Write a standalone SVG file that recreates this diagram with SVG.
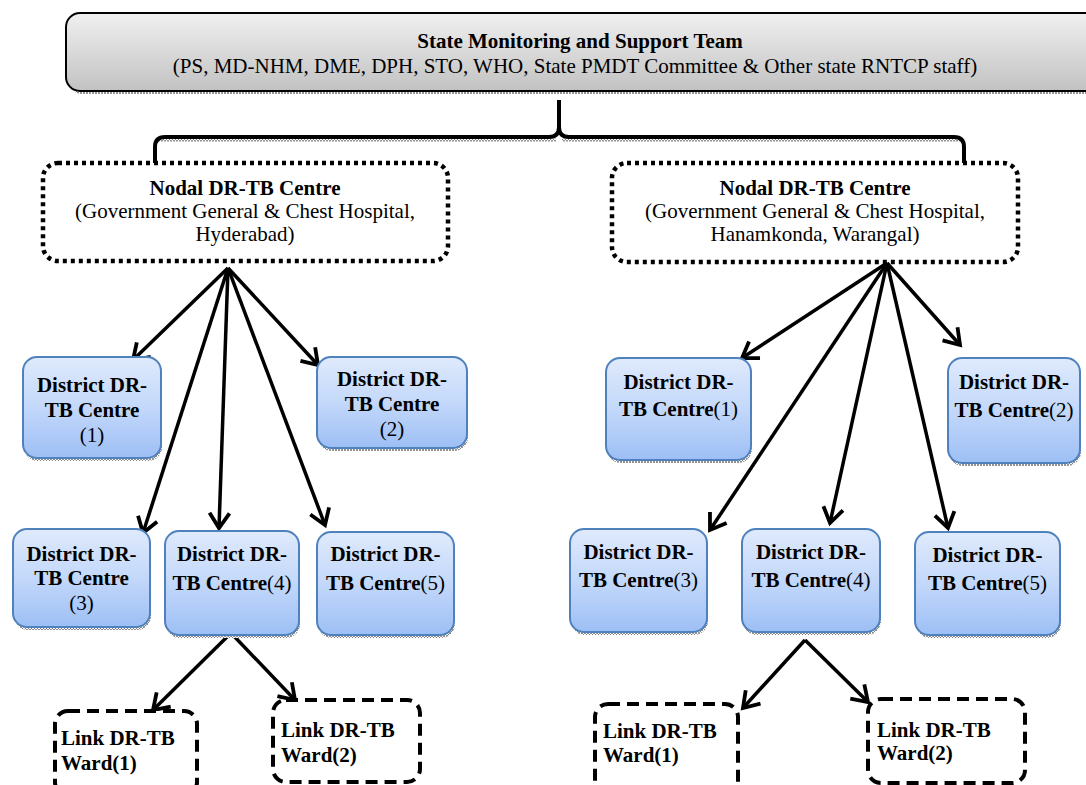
<svg xmlns="http://www.w3.org/2000/svg" width="1086" height="785" viewBox="0 0 1086 785">
<style>
.b{font-family:"Liberation Serif","Times New Roman",serif;font-size:21px;font-weight:bold;fill:#000}
.r{font-weight:normal}
.t{font-family:"Liberation Serif","Times New Roman",serif;font-size:21px;fill:#000}
.dist{fill:url(#blue);stroke:#4f81bd;stroke-width:2}
.sh{fill:url(#hatch)}
.nodal{fill:#fff;stroke:#000;stroke-width:4.5;stroke-dasharray:4 4}
.link{fill:#fff;stroke:#000;stroke-width:4;stroke-dasharray:12 7}
.arr{stroke:#000;stroke-width:3.5;fill:none;marker-end:url(#v)}
</style>
<defs>
<linearGradient id="gray" x1="0" y1="0" x2="0" y2="1">
<stop offset="0" stop-color="#f0f0f0"/><stop offset="1" stop-color="#c2c2c2"/>
</linearGradient>
<linearGradient id="blue" x1="0" y1="0" x2="0" y2="1">
<stop offset="0" stop-color="#dfeafc"/><stop offset="0.5" stop-color="#c3d8fa"/><stop offset="1" stop-color="#9dbff5"/>
</linearGradient>
<pattern id="hatch" width="3" height="3" patternUnits="userSpaceOnUse">
<rect width="3" height="3" fill="#fff"/><path d="M0,0 L3,3 M3,0 L0,3" stroke="#777" stroke-width="0.8"/>
</pattern>
<marker id="v" markerUnits="userSpaceOnUse" markerWidth="24" markerHeight="24" viewBox="0 0 24 24" refX="20" refY="12" orient="auto">
<path d="M5,2 L20,12 L5,22" fill="none" stroke="#000" stroke-width="3.8" stroke-linejoin="miter"/>
</marker>
</defs>

<g id="state">
<rect class="sh" x="68" y="16" width="1040" height="78" rx="14"/>
<rect x="66" y="13" width="1040" height="78" rx="14" fill="url(#gray)" stroke="#000" stroke-width="2"/>
<text class="b" x="580" y="48" text-anchor="middle">State Monitoring and Support Team</text>
<text class="t" x="575" y="73" text-anchor="middle">(PS, MD-NHM, DME, DPH, STO, WHO, State PMDT Committee &amp; Other state RNTCP staff)</text>
</g>

<g id="connectors">
<path d="M158,140 L556,140 M562,140 L960,140" stroke="url(#hatch)" stroke-width="3" fill="none"/>
<path d="M155,168 L155,147 Q155,137 165,137 L549,137 Q559,137 559,127 L559,100 M559,127 Q559,137 569,137 L954,137 Q964,137 964,147 L964,168" fill="none" stroke="#000" stroke-width="4"/>
<line class="arr" x1="228" y1="268" x2="133" y2="360"/>
<line class="arr" x1="228" y1="268" x2="318" y2="365"/>
<line class="arr" x1="228" y1="268" x2="143" y2="533"/>
<line class="arr" x1="228" y1="268" x2="219" y2="528"/>
<line class="arr" x1="228" y1="268" x2="325" y2="525"/>
<line class="arr" x1="887" y1="263" x2="742" y2="358"/>
<line class="arr" x1="887" y1="263" x2="960" y2="345"/>
<line class="arr" x1="887" y1="263" x2="710" y2="530"/>
<line class="arr" x1="887" y1="263" x2="830" y2="523"/>
<line class="arr" x1="887" y1="263" x2="948" y2="528"/>
<line class="arr" x1="231" y1="633" x2="153" y2="710"/>
<line class="arr" x1="231" y1="633" x2="295" y2="700"/>
<line class="arr" x1="805" y1="640" x2="743" y2="708"/>
<line class="arr" x1="805" y1="640" x2="868" y2="702"/>
</g>

<g id="nodal-hyderabad">
<rect class="nodal" x="43" y="163" width="405" height="98" rx="15"/>
<text class="b" x="245" y="195" text-anchor="middle">Nodal DR-TB Centre</text>
<text class="t" x="245" y="218" text-anchor="middle">(Government General &amp; Chest Hospital,</text>
<text class="t" x="245" y="241" text-anchor="middle">Hyderabad)</text>
</g>

<g id="nodal-warangal">
<rect class="nodal" x="612" y="163" width="406" height="99" rx="15"/>
<text class="b" x="815" y="195" text-anchor="middle">Nodal DR-TB Centre</text>
<text class="t" x="815" y="218" text-anchor="middle">(Government General &amp; Chest Hospital,</text>
<text class="t" x="815" y="241" text-anchor="middle">Hanamkonda, Warangal)</text>
</g>

<g id="left-d1">
<rect class="sh" x="24" y="360" width="138" height="101" rx="14"/>
<rect class="dist" x="23" y="357" width="138" height="101" rx="14"/>
<text class="b" x="92" y="392" text-anchor="middle">District DR-</text>
<text class="b" x="92" y="417" text-anchor="middle">TB Centre</text>
<text class="t" x="92" y="442" text-anchor="middle">(1)</text>
</g>
<g id="left-d2">
<rect class="sh" x="318" y="360" width="150" height="91" rx="14"/>
<rect class="dist" x="317" y="357" width="150" height="91" rx="14"/>
<text class="b" x="392" y="386" text-anchor="middle">District DR-</text>
<text class="b" x="392" y="411" text-anchor="middle">TB Centre</text>
<text class="t" x="392" y="436" text-anchor="middle">(2)</text>
</g>
<g id="left-d3">
<rect class="sh" x="14" y="532" width="137" height="98" rx="14"/>
<rect class="dist" x="13" y="529" width="137" height="98" rx="14"/>
<text class="b" x="81.5" y="561" text-anchor="middle">District DR-</text>
<text class="b" x="81.5" y="585" text-anchor="middle">TB Centre</text>
<text class="t" x="81.5" y="610" text-anchor="middle">(3)</text>
</g>
<g id="left-d4">
<rect class="sh" x="166" y="534" width="134" height="104" rx="14"/>
<rect class="dist" x="165" y="531" width="134" height="104" rx="14"/>
<text class="b" x="232" y="561" text-anchor="middle">District DR-</text>
<text class="b" x="232" y="590" text-anchor="middle">TB Centre<tspan class="r">(4)</tspan></text>
</g>
<g id="left-d5">
<rect class="sh" x="318" y="535" width="137" height="103" rx="14"/>
<rect class="dist" x="317" y="532" width="137" height="103" rx="14"/>
<text class="b" x="385.5" y="561" text-anchor="middle">District DR-</text>
<text class="b" x="385.5" y="590" text-anchor="middle">TB Centre<tspan class="r">(5)</tspan></text>
</g>

<g id="right-d1">
<rect class="sh" x="607" y="361" width="145" height="102" rx="14"/>
<rect class="dist" x="606" y="358" width="145" height="102" rx="14"/>
<text class="b" x="678.5" y="389" text-anchor="middle">District DR-</text>
<text class="b" x="678.5" y="416" text-anchor="middle">TB Centre<tspan class="r">(1)</tspan></text>
</g>
<g id="right-d2">
<rect class="sh" x="949" y="361" width="132" height="105" rx="14"/>
<rect class="dist" x="948" y="358" width="132" height="105" rx="14"/>
<text class="b" x="1014" y="389" text-anchor="middle">District DR-</text>
<text class="b" x="1014" y="417" text-anchor="middle">TB Centre<tspan class="r">(2)</tspan></text>
</g>
<g id="right-d3">
<rect class="sh" x="571" y="532" width="137" height="103" rx="14"/>
<rect class="dist" x="570" y="529" width="137" height="103" rx="14"/>
<text class="b" x="638.5" y="559" text-anchor="middle">District DR-</text>
<text class="b" x="638.5" y="587" text-anchor="middle">TB Centre<tspan class="r">(3)</tspan></text>
</g>
<g id="right-d4">
<rect class="sh" x="743" y="532" width="138" height="103" rx="14"/>
<rect class="dist" x="742" y="529" width="138" height="103" rx="14"/>
<text class="b" x="811" y="559" text-anchor="middle">District DR-</text>
<text class="b" x="811" y="587" text-anchor="middle">TB Centre<tspan class="r">(4)</tspan></text>
</g>
<g id="right-d5">
<rect class="sh" x="916" y="535" width="145" height="103" rx="14"/>
<rect class="dist" x="915" y="532" width="145" height="103" rx="14"/>
<text class="b" x="987.5" y="562" text-anchor="middle">District DR-</text>
<text class="b" x="987.5" y="590" text-anchor="middle">TB Centre<tspan class="r">(5)</tspan></text>
</g>

<g id="left-w1">
<rect class="link" x="55" y="711" width="142" height="84" rx="13"/>
<text class="b" x="61" y="745">Link DR-TB</text>
<text class="b" x="61" y="770">Ward(1)</text>
</g>
<g id="left-w2">
<rect class="link" x="273" y="700" width="147" height="82" rx="13"/>
<text class="b" x="281" y="737">Link DR-TB</text>
<text class="b" x="281" y="762">Ward(2)</text>
</g>
<g id="right-w1">
<rect class="link" x="595" y="704" width="143" height="91" rx="13"/>
<text class="b" x="603" y="738">Link DR-TB</text>
<text class="b" x="603" y="762">Ward(1)</text>
</g>
<g id="right-w2">
<rect class="link" x="868" y="699" width="157" height="84" rx="13"/>
<text class="b" x="877" y="737">Link DR-TB</text>
<text class="b" x="877" y="760">Ward(2)</text>
</g>
</svg>
